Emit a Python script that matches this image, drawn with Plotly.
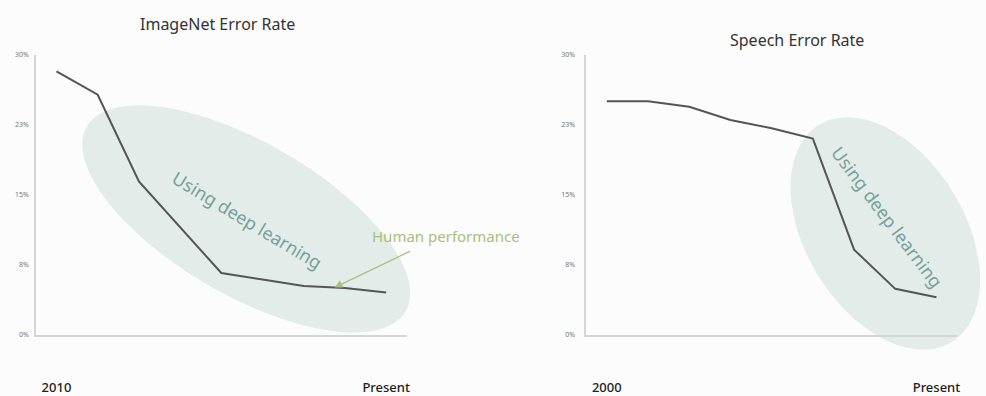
import numpy as np
import plotly.graph_objects as go

# ---- data -------------------------------------------------------------
steps = list(range(9))
imagenet_error = [28.2, 25.7, 16.4, 11.5, 6.6, 5.9, 5.2, 5.0, 4.5]
speech_error = [25.0, 25.0, 24.4, 23.0, 22.1, 21.0, 9.1, 4.9, 4.0]
imagenet_ticks = ["2010", "Present"]
speech_ticks = ["2000", "Present"]
y_tickvals = [0, 7.5, 15, 22.5, 30]
y_ticktext = ["0%", "8%", "15%", "23%", "30%"]

# ---- canvas geometry --------------------------------------------------
W, H = 986, 396
FONT = "Noto Sans"
LINE = "#555555"
AXIS = "#d4d6d5"
BLOB = "#e3ece9"
BG = "#fbfcfb"

left_dom = [36 / W, 408 / W]
right_dom = [588 / W, 960 / W]
y_dom = [1 - 339 / H, 1 - 51 / H]


def ellipse_path(cx, cy, a, b, angle_deg, n=120):
    """Rotated ellipse (pixel units) as an SVG path in paper coordinates."""
    t = np.linspace(0, 2 * np.pi, n)
    th = np.radians(angle_deg)
    px = cx + a * np.cos(t) * np.cos(th) - b * np.sin(t) * np.sin(th)
    py = cy + a * np.cos(t) * np.sin(th) + b * np.sin(t) * np.cos(th)
    pts = [f"{x / W:.5f},{1 - y / H:.5f}" for x, y in zip(px, py)]
    return "M " + " L ".join(pts) + " Z"


def label(text, px, py, size, color, angle=0):
    fig.add_annotation(text=text, xref="paper", yref="paper",
                       x=px / W, y=1 - py / H, xanchor="center",
                       yanchor="middle", showarrow=False, textangle=angle,
                       font=dict(family=FONT, size=size, color=color))


fig = go.Figure()
fig.add_trace(go.Scatter(x=steps, y=imagenet_error, mode="lines",
                         line=dict(color=LINE, width=2), xaxis="x", yaxis="y",
                         showlegend=False, hoverinfo="skip"))
fig.add_trace(go.Scatter(x=steps, y=speech_error, mode="lines",
                         line=dict(color=LINE, width=2), xaxis="x2", yaxis="y2",
                         showlegend=False, hoverinfo="skip"))

xcommon = dict(range=[-0.5, 8.5], showgrid=False, zeroline=False,
               showline=True, linecolor=AXIS, linewidth=1.5, ticks="",
               tickvals=[0, 8], ticklabelstandoff=40,
               tickfont=dict(family=FONT, size=13, color="#222222", weight=500))
ycommon = dict(range=[0, 30], showgrid=False, zeroline=False,
               showline=True, linecolor=AXIS, linewidth=1.5, ticks="",
               tickvals=y_tickvals, ticktext=y_ticktext,
               tickfont=dict(family=FONT, size=7, color="#777777"))

fig.update_layout(
    width=W, height=H, margin=dict(l=0, r=0, t=0, b=0),
    paper_bgcolor=BG, plot_bgcolor="rgba(0,0,0,0)",
    xaxis=dict(domain=left_dom, anchor="y", ticktext=imagenet_ticks, **xcommon),
    yaxis=dict(domain=y_dom, anchor="x", ticklabelstandoff=4, **ycommon),
    xaxis2=dict(domain=right_dom, anchor="y2", ticktext=speech_ticks, **xcommon),
    yaxis2=dict(domain=y_dom, anchor="x2", ticklabelstandoff=8, **ycommon),
    shapes=[
        dict(type="path", xref="paper", yref="paper", layer="below",
             path=ellipse_path(247, 220, 186, 78, 31), fillcolor=BLOB,
             line=dict(width=0)),
        dict(type="path", xref="paper", yref="paper", layer="below",
             path=ellipse_path(888, 235, 130, 80, 60), fillcolor=BLOB,
             line=dict(width=0)),
    ],
)

# titles
label("ImageNet Error Rate", 218, 20, 16, "#333333")
label("Speech Error Rate", 799, 36, 16, "#333333")

# highlighted region labels
label("Using deep learning", 248, 221, 18, "#75a19a", 31)
label("Using deep learning", 890, 218, 18, "#75a19a", 53)

# human performance pointer
hx = 6.75
hy = float(np.interp(hx, steps, imagenet_error))
fig.add_annotation(x=hx, y=hy, xref="x", yref="y", text="", showarrow=True,
                   arrowhead=2, arrowsize=1.2, arrowwidth=1.3,
                   arrowcolor="#a9c07c", ax=77, ay=-37)
label("Human performance", 447, 238, 15, "#a9c07c")

fig.write_html("out.html")
